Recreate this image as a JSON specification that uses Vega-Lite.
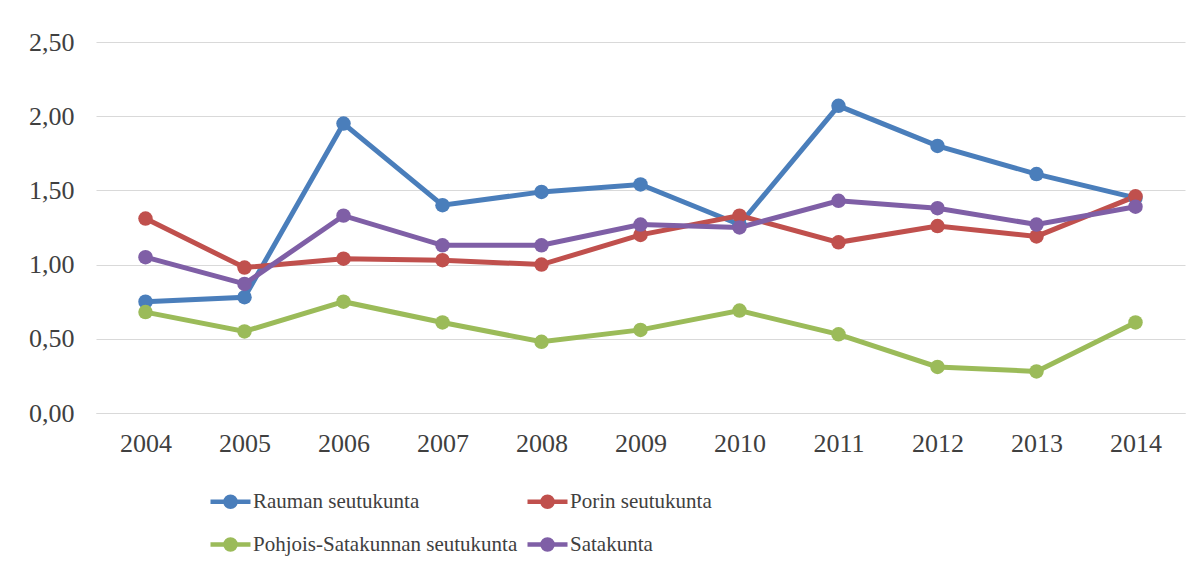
{
  "$schema": "https://vega.github.io/schema/vega-lite/v6.json",
  "width": 1089,
  "height": 371,
  "autosize": {"type": "none"},
  "padding": {"left": 96, "top": 42, "right": 19, "bottom": 158},
  "background": "white",
  "data": {
    "values": [
      {"year": "2004", "series": "Rauman seutukunta", "value": 0.75},
      {"year": "2005", "series": "Rauman seutukunta", "value": 0.78},
      {"year": "2006", "series": "Rauman seutukunta", "value": 1.95},
      {"year": "2007", "series": "Rauman seutukunta", "value": 1.40},
      {"year": "2008", "series": "Rauman seutukunta", "value": 1.49},
      {"year": "2009", "series": "Rauman seutukunta", "value": 1.54},
      {"year": "2010", "series": "Rauman seutukunta", "value": 1.27},
      {"year": "2011", "series": "Rauman seutukunta", "value": 2.07},
      {"year": "2012", "series": "Rauman seutukunta", "value": 1.80},
      {"year": "2013", "series": "Rauman seutukunta", "value": 1.61},
      {"year": "2014", "series": "Rauman seutukunta", "value": 1.45},
      {"year": "2004", "series": "Porin seutukunta", "value": 1.31},
      {"year": "2005", "series": "Porin seutukunta", "value": 0.98},
      {"year": "2006", "series": "Porin seutukunta", "value": 1.04},
      {"year": "2007", "series": "Porin seutukunta", "value": 1.03},
      {"year": "2008", "series": "Porin seutukunta", "value": 1.00},
      {"year": "2009", "series": "Porin seutukunta", "value": 1.20},
      {"year": "2010", "series": "Porin seutukunta", "value": 1.33},
      {"year": "2011", "series": "Porin seutukunta", "value": 1.15},
      {"year": "2012", "series": "Porin seutukunta", "value": 1.26},
      {"year": "2013", "series": "Porin seutukunta", "value": 1.19},
      {"year": "2014", "series": "Porin seutukunta", "value": 1.46},
      {"year": "2004", "series": "Pohjois-Satakunnan seutukunta", "value": 0.68},
      {"year": "2005", "series": "Pohjois-Satakunnan seutukunta", "value": 0.55},
      {"year": "2006", "series": "Pohjois-Satakunnan seutukunta", "value": 0.75},
      {"year": "2007", "series": "Pohjois-Satakunnan seutukunta", "value": 0.61},
      {"year": "2008", "series": "Pohjois-Satakunnan seutukunta", "value": 0.48},
      {"year": "2009", "series": "Pohjois-Satakunnan seutukunta", "value": 0.56},
      {"year": "2010", "series": "Pohjois-Satakunnan seutukunta", "value": 0.69},
      {"year": "2011", "series": "Pohjois-Satakunnan seutukunta", "value": 0.53},
      {"year": "2012", "series": "Pohjois-Satakunnan seutukunta", "value": 0.31},
      {"year": "2013", "series": "Pohjois-Satakunnan seutukunta", "value": 0.28},
      {"year": "2014", "series": "Pohjois-Satakunnan seutukunta", "value": 0.61},
      {"year": "2004", "series": "Satakunta", "value": 1.05},
      {"year": "2005", "series": "Satakunta", "value": 0.87},
      {"year": "2006", "series": "Satakunta", "value": 1.33},
      {"year": "2007", "series": "Satakunta", "value": 1.13},
      {"year": "2008", "series": "Satakunta", "value": 1.13},
      {"year": "2009", "series": "Satakunta", "value": 1.27},
      {"year": "2010", "series": "Satakunta", "value": 1.25},
      {"year": "2011", "series": "Satakunta", "value": 1.43},
      {"year": "2012", "series": "Satakunta", "value": 1.38},
      {"year": "2013", "series": "Satakunta", "value": 1.27},
      {"year": "2014", "series": "Satakunta", "value": 1.39}
    ]
  },
  "mark": {"type": "line", "strokeWidth": 5, "point": {"filled": true, "size": 210, "opacity": 1}},
  "encoding": {
    "x": {
      "field": "year", "type": "ordinal", "title": null,
      "scale": {"paddingInner": 0, "paddingOuter": 0.5},
      "axis": {"labelAngle": 0, "ticks": false, "domain": true, "domainColor": "#d9d9d9", "domainWidth": 1.2, "labelPadding": 17, "grid": false}
    },
    "y": {
      "field": "value", "type": "quantitative", "title": null,
      "scale": {"domain": [0, 2.5], "nice": false},
      "axis": {"values": [0, 0.5, 1, 1.5, 2, 2.5], "labelExpr": "replace(format(datum.value, '.2f'), '.', ',')", "ticks": false, "domain": false, "grid": true, "gridColor": "#d9d9d9", "gridWidth": 1.2, "labelPadding": 22}
    },
    "color": {
      "field": "series", "type": "nominal", "title": null,
      "sort": ["Rauman seutukunta", "Porin seutukunta", "Pohjois-Satakunnan seutukunta", "Satakunta"],
      "scale": {
        "domain": ["Rauman seutukunta", "Porin seutukunta", "Pohjois-Satakunnan seutukunta", "Satakunta"],
        "range": ["#4a7ebb", "#c0504d", "#9bbb59", "#7f5fa6"]
      },
      "legend": {
        "orient": "none", "legendX": 112, "legendY": 437, "direction": "horizontal", "columns": 2,
        "symbolType": "M-1,0L1,0M-0.25,0a0.25,0.25 0 1,0 0.5,0a0.25,0.25 0 1,0 -0.5,0Z",
        "symbolSize": 1600, "symbolStrokeWidth": 4.5, "symbolOpacity": 1,
        "labelFont": "Liberation Serif", "labelFontSize": 21, "labelColor": "#404040",
        "labelOffset": 0, "columnPadding": 0, "rowPadding": 6, "labelLimit": 400
      }
    },
    "order": {"field": "year"}
  },
  "config": {
    "view": {"stroke": null},
    "axis": {"labelFont": "Liberation Serif", "labelFontSize": 26, "labelColor": "#404040"}
  }
}
